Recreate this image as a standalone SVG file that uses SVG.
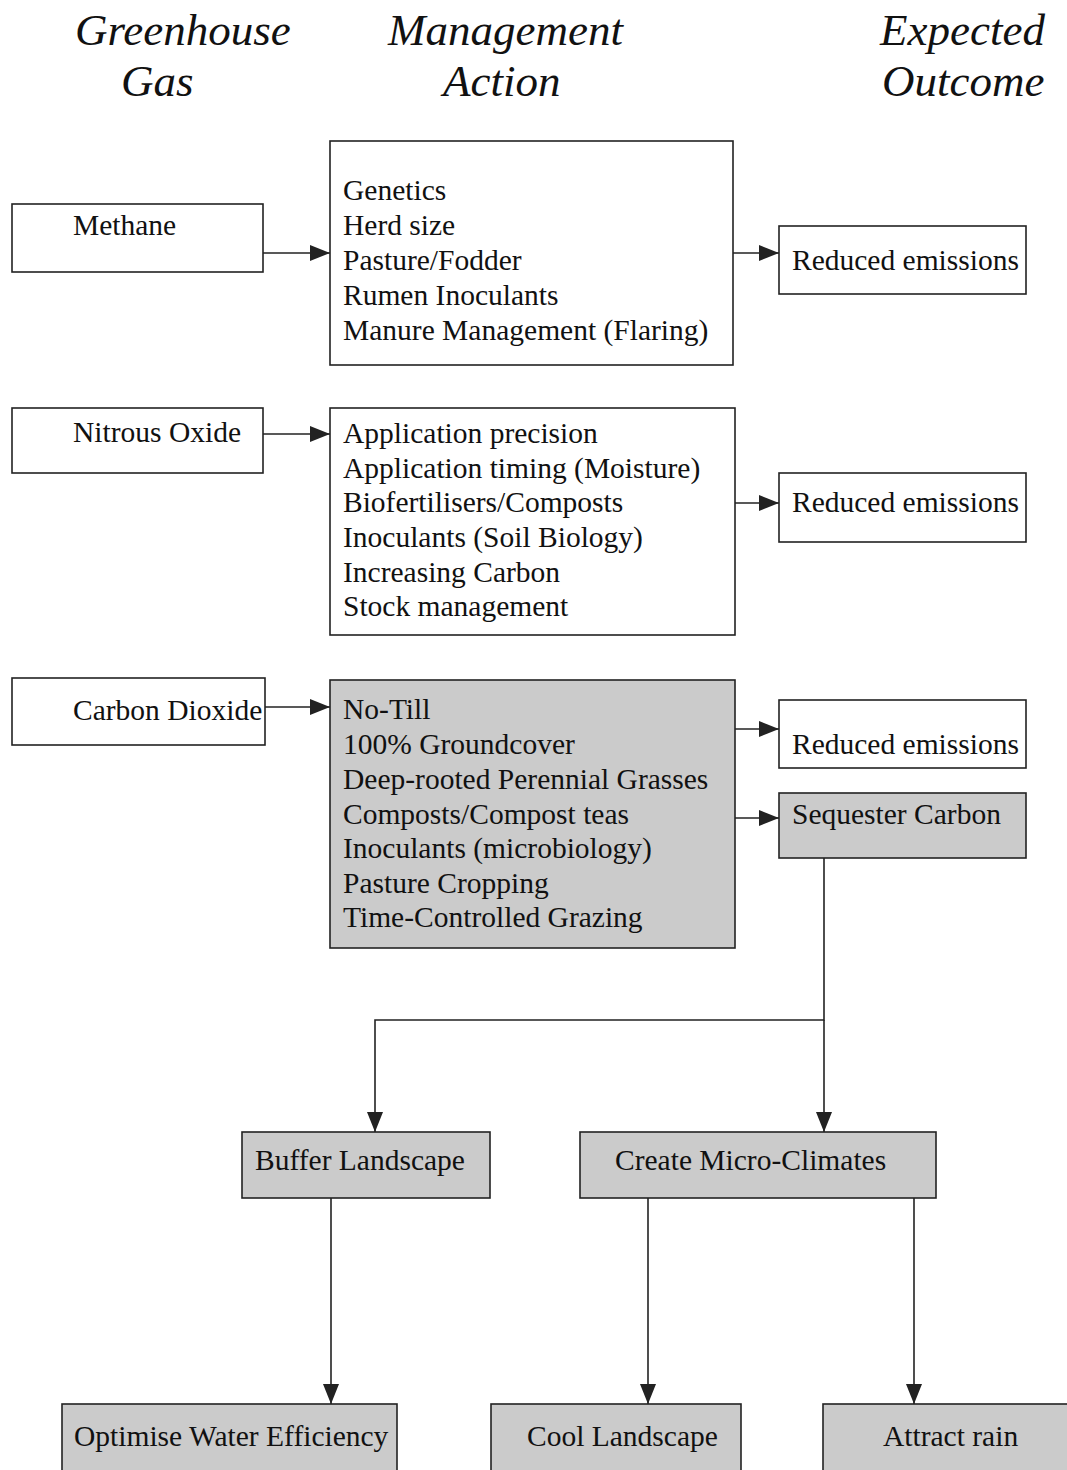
<svg xmlns="http://www.w3.org/2000/svg" width="1067" height="1470" viewBox="0 0 1067 1470">
<style>
.box{fill:#fff;stroke:#222;stroke-width:1.6}
.gray{fill:#cbcbcb;stroke:#222;stroke-width:1.6}
.t{font-family:"Liberation Serif","Times New Roman",serif;font-size:29.5px;fill:#111}
.h{font-family:"Liberation Serif","Times New Roman",serif;font-size:45px;font-style:italic;fill:#111}
.c{fill:none;stroke:#222;stroke-width:1.6}
</style>
<defs>
<marker id="ah" viewBox="0 0 20 16" refX="20" refY="8" markerWidth="20" markerHeight="16" markerUnits="userSpaceOnUse" orient="auto">
<path d="M0,0 L20,8 L0,16 Z" fill="#222"/>
</marker>
</defs>
<g id="headers">
<text class="h" x="75" y="45">Greenhouse</text>
<text class="h" x="121" y="96">Gas</text>
<text class="h" x="388" y="45">Management</text>
<text class="h" x="443" y="96">Action</text>
<text class="h" x="880" y="45">Expected</text>
<text class="h" x="882" y="96">Outcome</text>
</g>
<g id="connectors">
<path class="c" d="M263,253 H330" marker-end="url(#ah)"/>
<path class="c" d="M733,253 H779" marker-end="url(#ah)"/>
<path class="c" d="M263,434 H330" marker-end="url(#ah)"/>
<path class="c" d="M735,503 H779" marker-end="url(#ah)"/>
<path class="c" d="M265,707 H330" marker-end="url(#ah)"/>
<path class="c" d="M735,729 H779" marker-end="url(#ah)"/>
<path class="c" d="M735,818 H779" marker-end="url(#ah)"/>
<path class="c" d="M824,858 V1020 H375 V1132" marker-end="url(#ah)"/>
<path class="c" d="M824,1020 V1132" marker-end="url(#ah)"/>
<path class="c" d="M331,1198 V1404" marker-end="url(#ah)"/>
<path class="c" d="M648,1198 V1404" marker-end="url(#ah)"/>
<path class="c" d="M914,1198 V1404" marker-end="url(#ah)"/>
</g>
<g id="methane">
<rect class="box" x="12" y="204" width="251" height="68"/>
<text class="t" x="73" y="235">Methane</text>
</g>
<g id="action-methane">
<rect class="box" x="330" y="141" width="403" height="224"/>
<text class="t" x="343" y="200">Genetics</text>
<text class="t" x="343" y="235">Herd size</text>
<text class="t" x="343" y="270">Pasture/Fodder</text>
<text class="t" x="343" y="305">Rumen Inoculants</text>
<text class="t" x="343" y="340">Manure Management (Flaring)</text>
</g>
<g id="outcome-methane">
<rect class="box" x="779" y="226" width="247" height="68"/>
<text class="t" x="792" y="270">Reduced emissions</text>
</g>
<g id="nitrous">
<rect class="box" x="12" y="408" width="251" height="65"/>
<text class="t" x="73" y="442">Nitrous Oxide</text>
</g>
<g id="action-nitrous">
<rect class="box" x="330" y="408" width="405" height="227"/>
<text class="t" x="343" y="443">Application precision</text>
<text class="t" x="343" y="478">Application timing (Moisture)</text>
<text class="t" x="343" y="512">Biofertilisers/Composts</text>
<text class="t" x="343" y="547">Inoculants (Soil Biology)</text>
<text class="t" x="343" y="582">Increasing Carbon</text>
<text class="t" x="343" y="616">Stock management</text>
</g>
<g id="outcome-nitrous">
<rect class="box" x="779" y="473" width="247" height="69"/>
<text class="t" x="792" y="512">Reduced emissions</text>
</g>
<g id="co2">
<rect class="box" x="12" y="678" width="253" height="67"/>
<text class="t" x="73" y="720">Carbon Dioxide</text>
</g>
<g id="action-co2">
<rect class="gray" x="330" y="680" width="405" height="268"/>
<text class="t" x="343" y="719">No-Till</text>
<text class="t" x="343" y="754">100% Groundcover</text>
<text class="t" x="343" y="789">Deep-rooted Perennial Grasses</text>
<text class="t" x="343" y="824">Composts/Compost teas</text>
<text class="t" x="343" y="858">Inoculants (microbiology)</text>
<text class="t" x="343" y="893">Pasture Cropping</text>
<text class="t" x="343" y="927">Time-Controlled Grazing</text>
</g>
<g id="outcome-co2">
<rect class="box" x="779" y="700" width="247" height="68"/>
<text class="t" x="792" y="754">Reduced emissions</text>
</g>
<g id="sequester">
<rect class="gray" x="779" y="793" width="247" height="65"/>
<text class="t" x="792" y="824">Sequester Carbon</text>
</g>
<g id="buffer">
<rect class="gray" x="242" y="1132" width="248" height="66"/>
<text class="t" x="255" y="1170">Buffer Landscape</text>
</g>
<g id="microclimates">
<rect class="gray" x="580" y="1132" width="356" height="66"/>
<text class="t" x="615" y="1170">Create Micro-Climates</text>
</g>
<g id="water">
<rect class="gray" x="62" y="1404" width="335" height="80"/>
<text class="t" x="74" y="1446">Optimise Water Efficiency</text>
</g>
<g id="cool">
<rect class="gray" x="491" y="1404" width="250" height="80"/>
<text class="t" x="527" y="1446">Cool Landscape</text>
</g>
<g id="rain">
<rect class="gray" x="823" y="1404" width="260" height="80"/>
<text class="t" x="883" y="1446">Attract rain</text>
</g>
</svg>
